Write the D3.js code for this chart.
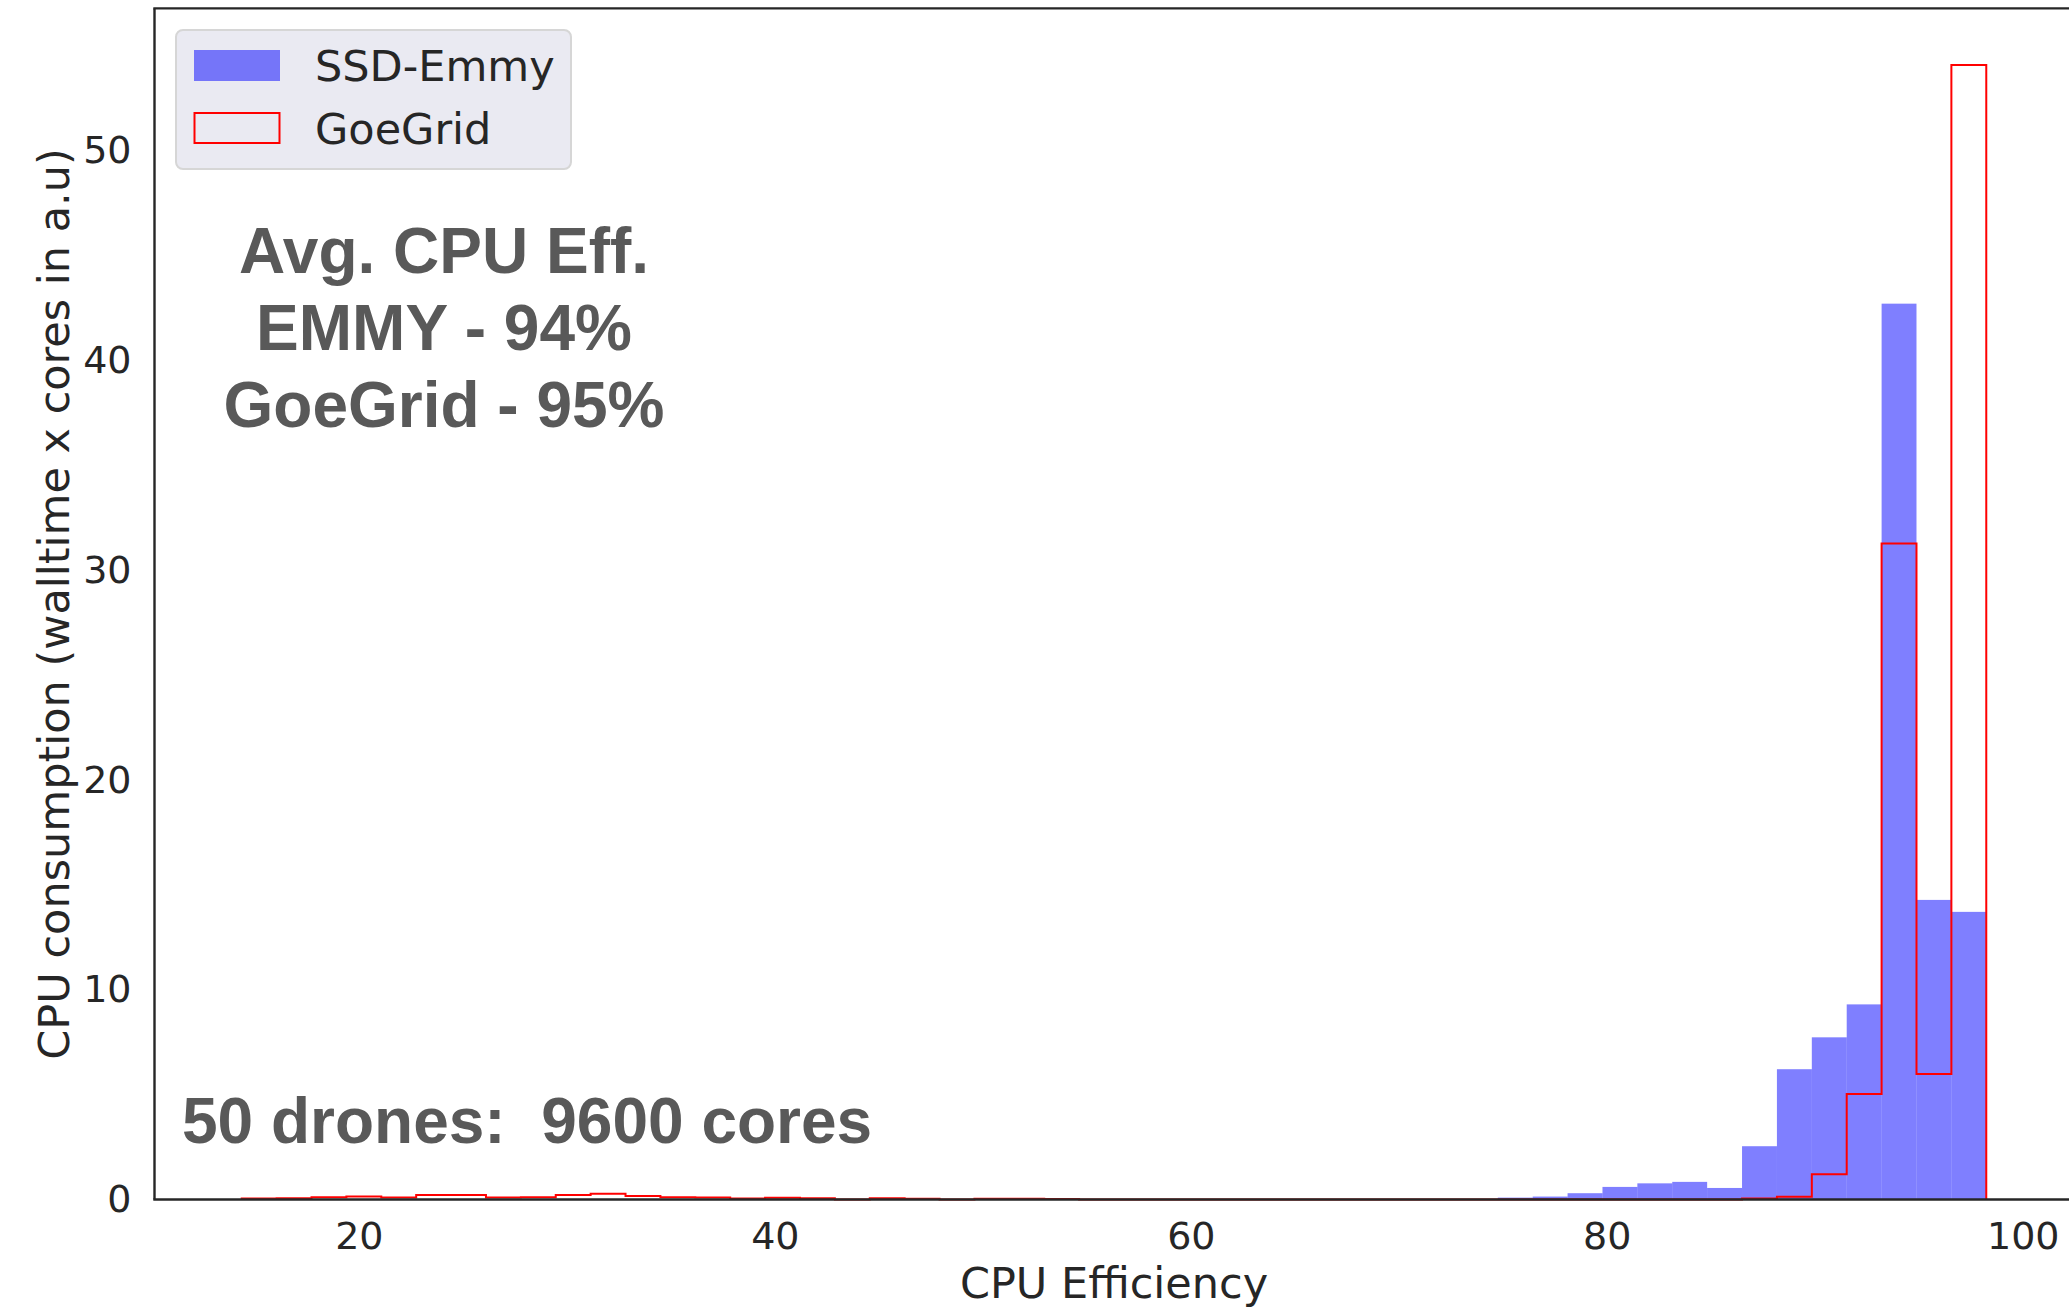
<!DOCTYPE html>
<html>
<head>
<meta charset="utf-8">
<script src="https://cdn.jsdelivr.net/npm/d3@7"></script>
<style>
  html, body { margin: 0; padding: 0; background: #ffffff; }
  svg { display: block; }
  text { font-family: "DejaVu Sans", sans-serif; fill: #262626; }
</style>
</head>
<body>
<svg id="chart" width="2069" height="1312"></svg>
<script>
// Histogram bins of CPU efficiency (%), shared by both series
const binStart = 14.37;
const binWidth = 1.6775;
const binCount = 50;

// CPU consumption per bin (walltime x cores, a.u.)
const ssdEmmy = [
  0, 0, 0, 0, 0, 0, 0, 0, 0, 0,
  0, 0, 0, 0, 0, 0, 0, 0, 0, 0,
  0, 0, 0, 0, 0, 0, 0, 0, 0, 0,
  0, 0, 0, 0, 0, 0, 0.09, 0.14, 0.30, 0.60,
  0.77, 0.84, 0.55, 2.54, 6.21, 7.73, 9.30, 42.70, 14.28, 13.71
];
const goeGrid = [
  0.05, 0.06, 0.11, 0.14, 0.10, 0.22, 0.22, 0.09, 0.11, 0.22,
  0.27, 0.17, 0.11, 0.10, 0.05, 0.08, 0.06, 0, 0.06, 0.04,
  0, 0.03, 0.03, 0.02, 0, 0, 0, 0, 0, 0,
  0, 0, 0, 0, 0, 0, 0, 0, 0, 0,
  0, 0, 0, 0.05, 0.13, 1.20, 5.03, 31.27, 5.98, 54.07
];

const seriesNames = ["SSD-Emmy", "GoeGrid"];
const xTicks = [20, 40, 60, 80, 100];
const yTicks = [0, 10, 20, 30, 40, 50];
const xLabel = "CPU Efficiency";
const yLabel = "CPU consumption (walltime x cores in a.u)";
const avgLines = ["Avg. CPU Eff.", "EMMY - 94%", "GoeGrid - 95%"];
const setupNote = "50 drones:  9600 cores";

(function drawChart() {
  const edges = d3.range(binCount + 1).map(i => binStart + i * binWidth);

  // Axis limits with 5% padding like matplotlib's autoscale
  const xMin = edges[0], xMax = edges[binCount];
  const xPad = (xMax - xMin) * 0.05;
  const yMax = d3.max([d3.max(ssdEmmy), d3.max(goeGrid)]) * 1.05;

  const plotL = 154.5, plotR = 2073.5, plotT = 8.4, plotB = 1199.5;

  const x = d3.scaleLinear().domain([xMin - xPad, xMax + xPad]).range([plotL, plotR]);
  const y = d3.scaleLinear().domain([0, yMax]).range([plotB, plotT]);

  const svg = d3.select("#chart");

  // Filled bars for SSD-Emmy
  svg.append("g")
    .selectAll("rect")
    .data(ssdEmmy.map((v, i) => ({ v, x0: edges[i], x1: edges[i + 1] })).filter(d => d.v > 0))
    .join("rect")
    .attr("x", d => x(d.x0))
    .attr("width", d => x(d.x1) - x(d.x0))
    .attr("y", d => y(d.v))
    .attr("height", d => y(0) - y(d.v))
    .attr("fill", "rgba(0,0,255,0.5)");

  // Step outline for GoeGrid
  const stepPts = [[edges[0], 0]];
  goeGrid.forEach((v, i) => { stepPts.push([edges[i], v]); stepPts.push([edges[i + 1], v]); });
  stepPts.push([edges[binCount], 0]);

  svg.append("path")
    .datum(stepPts)
    .attr("d", d3.line().x(d => x(d[0])).y(d => y(d[1])))
    .attr("fill", "none")
    .attr("stroke", "#ff0000")
    .attr("stroke-width", 2)
    .attr("stroke-linejoin", "miter");

  // Axes (no tick marks, seaborn "white" look)
  const xAxis = svg.append("g")
    .attr("transform", `translate(0,${plotB})`)
    .call(d3.axisBottom(x).tickValues(xTicks).tickSize(0).tickPadding(23).tickFormat(d3.format("d")));
  xAxis.select(".domain").remove();
  xAxis.selectAll("text").style("font-size", "38px").style("font-family", "'DejaVu Sans', sans-serif").attr("fill", "#262626");

  const yAxis = svg.append("g")
    .attr("transform", `translate(${plotL},0)`)
    .call(d3.axisLeft(y).tickValues(yTicks).tickSize(0).tickPadding(23).tickFormat(d3.format("d")));
  yAxis.select(".domain").remove();
  yAxis.selectAll("text").style("font-size", "38px").style("font-family", "'DejaVu Sans', sans-serif").attr("fill", "#262626");

  // Spines
  const spine = svg.append("g").attr("stroke", "#262626").attr("stroke-width", 2.4).attr("fill", "none");
  spine.append("line").attr("x1", plotL).attr("x2", plotL).attr("y1", plotT).attr("y2", plotB);
  spine.append("line").attr("x1", plotL - 1.2).attr("x2", plotR).attr("y1", plotB).attr("y2", plotB);
  spine.append("line").attr("x1", plotL - 1.2).attr("x2", plotR).attr("y1", plotT).attr("y2", plotT);
  spine.append("line").attr("x1", plotR).attr("x2", plotR).attr("y1", plotT).attr("y2", plotB);

  // Axis titles
  svg.append("text")
    .attr("x", (plotL + plotR) / 2)
    .attr("y", 1298)
    .attr("text-anchor", "middle")
    .style("font-size", "43px")
    .text(xLabel);

  svg.append("text")
    .attr("transform", `translate(69,${(plotT + plotB) / 2}) rotate(-90)`)
    .attr("text-anchor", "middle")
    .style("font-size", "43px")
    .text(yLabel);

  // Annotations
  const note = svg.append("g");
  avgLines.forEach((t, i) => {
    note.append("text")
      .attr("x", 444)
      .attr("y", 273 + i * 77)
      .attr("text-anchor", "middle")
      .style("font-family", "'Liberation Sans', Arial, sans-serif")
      .style("font-weight", "bold")
      .style("font-size", "64px")
      .style("fill", "#595959")
      .text(t);
  });
  note.append("text")
    .attr("x", 182)
    .attr("y", 1143)
    .style("font-family", "'Liberation Sans', Arial, sans-serif")
    .style("font-weight", "bold")
    .style("font-size", "64px")
    .style("fill", "#595959")
    .style("white-space", "pre")
    .text(setupNote);

  // Legend
  const legend = svg.append("g");
  legend.append("rect")
    .attr("x", 176).attr("y", 30).attr("width", 395).attr("height", 139)
    .attr("rx", 7).attr("ry", 7)
    .attr("fill", "#eaeaf2").attr("stroke", "#d6d6d6").attr("stroke-width", 2);
  legend.append("rect")
    .attr("x", 194).attr("y", 50).attr("width", 86).attr("height", 31)
    .attr("fill", "rgba(0,0,255,0.5)");
  legend.append("rect")
    .attr("x", 194.5).attr("y", 113).attr("width", 85).attr("height", 30)
    .attr("fill", "none").attr("stroke", "#ff0000").attr("stroke-width", 2);
  seriesNames.forEach((name, i) => {
    legend.append("text")
      .attr("x", 315)
      .attr("y", 81 + i * 62.5)
      .style("font-size", "43px")
      .text(name);
  });
})();
</script>
</body>
</html>
